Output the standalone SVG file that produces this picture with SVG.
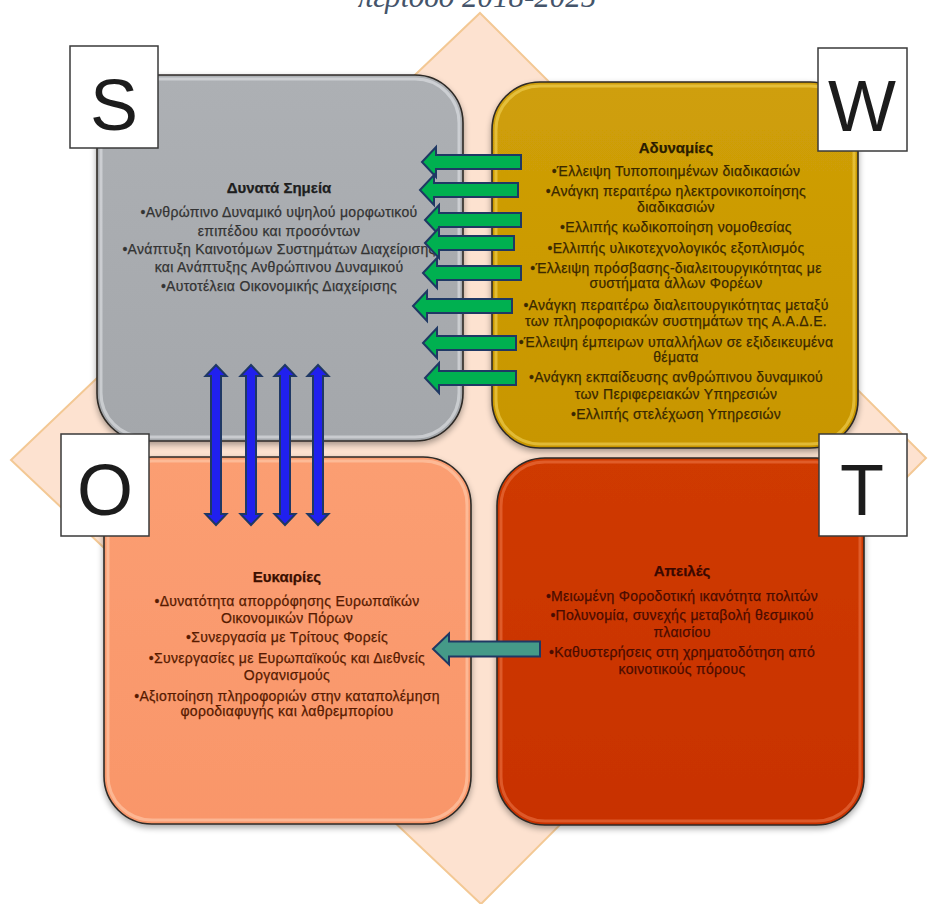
<svg xmlns="http://www.w3.org/2000/svg" width="934" height="904" viewBox="0 0 934 904">
  <defs>
    <linearGradient id="gS" x1="0" y1="0" x2="0" y2="1">
      <stop offset="0" stop-color="#adb0b4"/>
      <stop offset="1" stop-color="#a4a7ab"/>
    </linearGradient>
    <linearGradient id="gW" x1="0" y1="0" x2="0" y2="1">
      <stop offset="0" stop-color="#cf9f08"/>
      <stop offset="1" stop-color="#c89600"/>
    </linearGradient>
    <linearGradient id="gO" x1="0" y1="0" x2="0" y2="1">
      <stop offset="0" stop-color="#fb9e72"/>
      <stop offset="1" stop-color="#f9966a"/>
    </linearGradient>
    <linearGradient id="gT" x1="0" y1="0" x2="0" y2="1">
      <stop offset="0" stop-color="#cf3a06"/>
      <stop offset="1" stop-color="#c83200"/>
    </linearGradient>
    <filter id="soft" x="-5%" y="-5%" width="110%" height="112%">
      <feGaussianBlur in="SourceAlpha" stdDeviation="3"/>
      <feOffset dx="0" dy="3"/>
      <feComponentTransfer><feFuncA type="linear" slope="0.35"/></feComponentTransfer>
      <feMerge><feMergeNode/><feMergeNode in="SourceGraphic"/></feMerge>
    </filter>
  </defs>
  <style>
    .card { stroke: #2e2a26; stroke-width: 1.6; }
    .bevel { fill: none; stroke-width: 3; opacity: 0.55; }
    .tag { fill: #ffffff; stroke: #3a3a3a; stroke-width: 1.5; }
    .letter { font-family: "Liberation Sans", Arial, sans-serif; font-size: 72px; fill: #1c1c1c; text-anchor: middle; }
    .txt { font-family: "Liberation Sans", Arial, sans-serif; font-size: 14px; letter-spacing: 0.3px; text-anchor: middle; stroke-width: 0.25px; }
    .hd { font-weight: bold; font-size: 15px; letter-spacing: 0; }
    .gr { fill: #00b050; stroke: #1f3864; stroke-width: 2; stroke-linejoin: miter; }
    .bl { fill: #2020ee; stroke: #1f3864; stroke-width: 2; }
    .tl { fill: #459a88; stroke: #1f3864; stroke-width: 2; }
  </style>

  <rect width="934" height="904" fill="#ffffff"/>

  <!-- heading line, partly above the top edge -->
  <text x="477" y="7" font-family="'Liberation Serif', 'Times New Roman', serif" font-style="italic" font-size="31" fill="#44546a" text-anchor="middle">περίοδο 2018-2025</text>

  <!-- background diamond -->
  <polygon points="480,13 926,458 481,904 11,460" fill="#fde2d0" stroke="#f3c894" stroke-width="2"/>

  <!-- Strengths -->
  <g id="node-S">
    <rect class="card" x="97" y="75" width="366" height="366" rx="48" fill="url(#gS)" filter="url(#soft)"/>
    <rect class="bevel" x="101" y="79" width="358" height="358" rx="44" stroke="#e8eaec"/>
    <rect class="tag" x="70" y="46" width="88" height="102"/>
    <text class="letter" x="114" y="130">S</text>
    <g class="txt" fill="#333333" stroke="#333333">
      <text class="hd" x="279" y="193" fill="#1e1e1e" stroke="#1e1e1e">Δυνατά Σημεία</text>
      <text x="279" y="217">•Ανθρώπινο Δυναμικό υψηλού μορφωτικού</text>
      <text x="279" y="236">επιπέδου και προσόντων</text>
      <text x="279" y="254">•Ανάπτυξη Καινοτόμων Συστημάτων Διαχείρισης</text>
      <text x="279" y="272">και Ανάπτυξης Ανθρώπινου Δυναμικού</text>
      <text x="279" y="291">•Αυτοτέλεια Οικονομικής Διαχείρισης</text>
    </g>
  </g>

  <!-- Weaknesses -->
  <g id="node-W">
    <rect class="card" x="492" y="82" width="366" height="366" rx="48" fill="url(#gW)" filter="url(#soft)"/>
    <rect class="bevel" x="496" y="86" width="358" height="358" rx="44" stroke="#f6d860"/>
    <rect class="tag" x="818" y="48" width="89" height="103"/>
    <text class="letter" x="862" y="131">W</text>
    <g class="txt" fill="#3a2800" stroke="#3a2800">
      <text class="hd" x="676" y="153" fill="#2a1c00" stroke="#2a1c00">Αδυναμίες</text>
      <text x="676" y="176">•Έλλειψη Τυποποιημένων διαδικασιών</text>
      <text x="676" y="196">•Ανάγκη περαιτέρω ηλεκτρονικοποίησης</text>
      <text x="676" y="212">διαδικασιών</text>
      <text x="676" y="232">•Ελλιπής κωδικοποίηση νομοθεσίας</text>
      <text x="676" y="253">•Ελλιπής υλικοτεχνολογικός εξοπλισμός</text>
      <text x="676" y="273">•Έλλειψη πρόσβασης-διαλειτουργικότητας με</text>
      <text x="676" y="288">συστήματα άλλων Φορέων</text>
      <text x="676" y="310">•Ανάγκη περαιτέρω διαλειτουργικότητας μεταξύ</text>
      <text x="676" y="326">των πληροφοριακών συστημάτων της Α.Α.Δ.Ε.</text>
      <text x="676" y="347">•Έλλειψη έμπειρων υπαλλήλων σε εξιδεικευμένα</text>
      <text x="676" y="362">θέματα</text>
      <text x="676" y="382">•Ανάγκη εκπαίδευσης ανθρώπινου δυναμικού</text>
      <text x="676" y="399">των Περιφερειακών Υπηρεσιών</text>
      <text x="676" y="419">•Ελλιπής στελέχωση Υπηρεσιών</text>
    </g>
  </g>

  <!-- Opportunities -->
  <g id="node-O">
    <rect class="card" x="104" y="457" width="367" height="367" rx="48" fill="url(#gO)" filter="url(#soft)"/>
    <rect class="bevel" x="108" y="461" width="359" height="359" rx="44" stroke="#ffd2b4"/>
    <rect class="tag" x="61" y="434" width="88" height="102"/>
    <text class="letter" x="105" y="515">O</text>
    <g class="txt" fill="#561a00" stroke="#561a00">
      <text class="hd" x="287" y="582" fill="#3c1000" stroke="#3c1000">Ευκαιρίες</text>
      <text x="287" y="606">•Δυνατότητα απορρόφησης Ευρωπαϊκών</text>
      <text x="287" y="623">Οικονομικών Πόρων</text>
      <text x="287" y="642">•Συνεργασία με Τρίτους Φορείς</text>
      <text x="287" y="663">•Συνεργασίες με Ευρωπαϊκούς και Διεθνείς</text>
      <text x="287" y="680">Οργανισμούς</text>
      <text x="287" y="701">•Αξιοποίηση πληροφοριών στην καταπολέμηση</text>
      <text x="287" y="716">φοροδιαφυγής και λαθρεμπορίου</text>
    </g>
  </g>

  <!-- Threats -->
  <g id="node-T">
    <rect class="card" x="497" y="458" width="367" height="367" rx="48" fill="url(#gT)" filter="url(#soft)"/>
    <rect class="bevel" x="501" y="462" width="359" height="359" rx="44" stroke="#ee7a4a"/>
    <rect class="tag" x="819" y="434" width="88" height="102"/>
    <text class="letter" x="862" y="515">T</text>
    <g class="txt" fill="#4a0c00" stroke="#4a0c00">
      <text class="hd" x="682" y="576" fill="#3a0800" stroke="#3a0800">Απειλές</text>
      <text x="682" y="601">•Μειωμένη Φοροδοτική ικανότητα πολιτών</text>
      <text x="682" y="620">•Πολυνομία, συνεχής μεταβολή θεσμικού</text>
      <text x="682" y="637">πλαισίου</text>
      <text x="682" y="657">•Καθυστερήσεις στη χρηματοδότηση από</text>
      <text x="682" y="674">κοινοτικούς πόρους</text>
    </g>
  </g>

  <!-- connectors -->
  <g id="connectors">
    <!-- W to S, pointing left -->
    <path class="gr" d="M422,162 L436,147 L436,155 L521,155 L521,169 L436,169 L436,177 Z"/>
    <path class="gr" d="M420,190 L434,175 L434,183 L518,183 L518,197 L434,197 L434,205 Z"/>
    <path class="gr" d="M425,220 L439,205 L439,213 L521,213 L521,227 L439,227 L439,235 Z"/>
    <path class="gr" d="M425,243 L439,228 L439,236 L514,236 L514,250 L439,250 L439,258 Z"/>
    <path class="gr" d="M423,273 L437,258 L437,266 L521,266 L521,280 L437,280 L437,288 Z"/>
    <path class="gr" d="M413,306 L427,291 L427,299 L512,299 L512,313 L427,313 L427,321 Z"/>
    <path class="gr" d="M423,343 L437,328 L437,336 L516,336 L516,350 L437,350 L437,358 Z"/>
    <path class="gr" d="M425,378 L439,363 L439,371 L516,371 L516,385 L439,385 L439,393 Z"/>

    <!-- S and O, both ways -->
    <path class="bl" d="M216,365 L226.5,376 L221,376 L221,514 L226.5,514 L216,525 L205.5,514 L211,514 L211,376 L205.5,376 Z"/>
    <path class="bl" d="M251,365 L261.5,376 L256,376 L256,514 L261.5,514 L251,525 L240.5,514 L246,514 L246,376 L240.5,376 Z"/>
    <path class="bl" d="M285,365 L295.5,376 L290,376 L290,514 L295.5,514 L285,525 L274.5,514 L280,514 L280,376 L274.5,376 Z"/>
    <path class="bl" d="M318,365 L328.5,376 L323,376 L323,514 L328.5,514 L318,525 L307.5,514 L313,514 L313,376 L307.5,376 Z"/>

    <!-- T to O, pointing left -->
    <path class="tl" d="M433,649 L449,633.5 L449,641.5 L540,641.5 L540,656.5 L449,656.5 L449,664.5 Z"/>
  </g>
</svg>
